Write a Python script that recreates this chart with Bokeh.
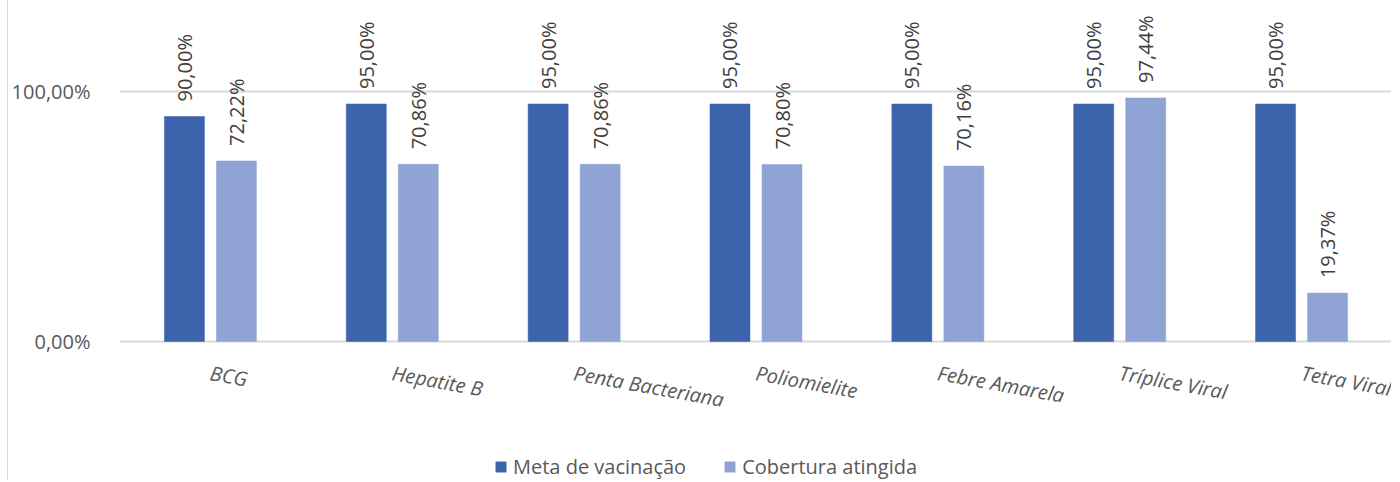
import math
from bokeh.plotting import figure
from bokeh.models import FactorRange, Range1d, FixedTicker, Legend, LegendItem, ColumnDataSource
from bokeh.transform import dodge
from bokeh.core.properties import value
from bokeh.embed import file_html
from bokeh.resources import INLINE

categories = ["BCG", "Hepatite B", "Penta Bacteriana", "Poliomielite",
              "Febre Amarela", "Tríplice Viral", "Tetra Viral"]
meta = [0.90, 0.95, 0.95, 0.95, 0.95, 0.95, 0.95]
cobertura = [0.7222, 0.7086, 0.7086, 0.7080, 0.7016, 0.9744, 0.1937]
series_names = ["Meta de vacinação", "Cobertura atingida"]
y_ticks = [0, 1]
y_tick_labels = ["0,00%", "100,00%"]

DARK = "#3C64AC"
LIGHT = "#8FA4D4"
FONT = "Open Sans"


def fmt(v):
    return f"{v * 100:.2f}".replace(".", ",") + "%"


src = ColumnDataSource(dict(
    cat=categories,
    meta=meta,
    cob=cobertura,
    meta_lbl=[fmt(v) for v in meta],
    cob_lbl=[fmt(v) for v in cobertura],
    zero=[0] * len(categories),
))

p = figure(width=1384, height=480,
           x_range=FactorRange(*categories, range_padding=0),
           y_range=Range1d(-(480 - 341) / 250, 341 / 250),
           x_axis_location=None,
           output_backend="svg", toolbar_location=None,
           min_border_left=110, min_border_right=0,
           min_border_top=0, min_border_bottom=0)
p.outline_line_color = None
p.styles = {"margin-left": "7px", "border-left": "1px solid #D9D9D9"}

p.yaxis.ticker = FixedTicker(ticks=y_ticks)
p.yaxis.major_label_overrides = {t: l for t, l in zip(y_ticks, y_tick_labels)}
p.yaxis.axis_line_color = None
p.yaxis.major_tick_line_color = None
p.yaxis.minor_tick_line_color = None
p.yaxis.major_label_text_font = FONT
p.yaxis.major_label_text_font_size = "20px"
p.yaxis.major_label_text_color = "#595959"
p.yaxis.major_label_standoff = 23

p.ygrid.ticker = FixedTicker(ticks=y_ticks)
p.ygrid.grid_line_color = "#D9D9D9"
p.ygrid.grid_line_width = 2
p.xgrid.visible = False

off = 0.143
bw = 0.22
r1 = p.vbar(x=dodge("cat", -off, range=p.x_range), top="meta", bottom=0, width=bw,
            source=src, fill_color=DARK, line_color=DARK, line_width=0.5)
r2 = p.vbar(x=dodge("cat", off, range=p.x_range), top="cob", bottom=0, width=bw,
            source=src, fill_color=LIGHT, line_color=LIGHT, line_width=0.5)

common = dict(angle=math.pi / 2, text_align="left", text_baseline="middle",
              y_offset=-15, text_font=value(FONT), text_font_size="20px",
              text_color="#404040", source=src)
p.text(x=dodge("cat", -off, range=p.x_range), y="meta", text="meta_lbl", **common)
p.text(x=dodge("cat", off, range=p.x_range), y="cob", text="cob_lbl", **common)

p.text(x="cat", y="zero", text="cat", angle=-0.18, text_align="left",
       text_baseline="middle", y_offset=31, text_font=value(FONT),
       text_font_style="italic", text_font_size="20px", text_color="#595959",
       source=src)

legend = Legend(items=[LegendItem(label=series_names[0], renderers=[r1]),
                       LegendItem(label=series_names[1], renderers=[r2])],
                location=(375, 0), orientation="horizontal",
                glyph_width=13, glyph_height=13, label_standoff=6, spacing=37,
                padding=0, margin=0, border_line_color=None,
                background_fill_alpha=0,
                label_text_font=FONT, label_text_font_size="20px",
                label_text_color="#595959")
p.add_layout(legend)

open("out.html", "w").write(file_html(p, INLINE))
